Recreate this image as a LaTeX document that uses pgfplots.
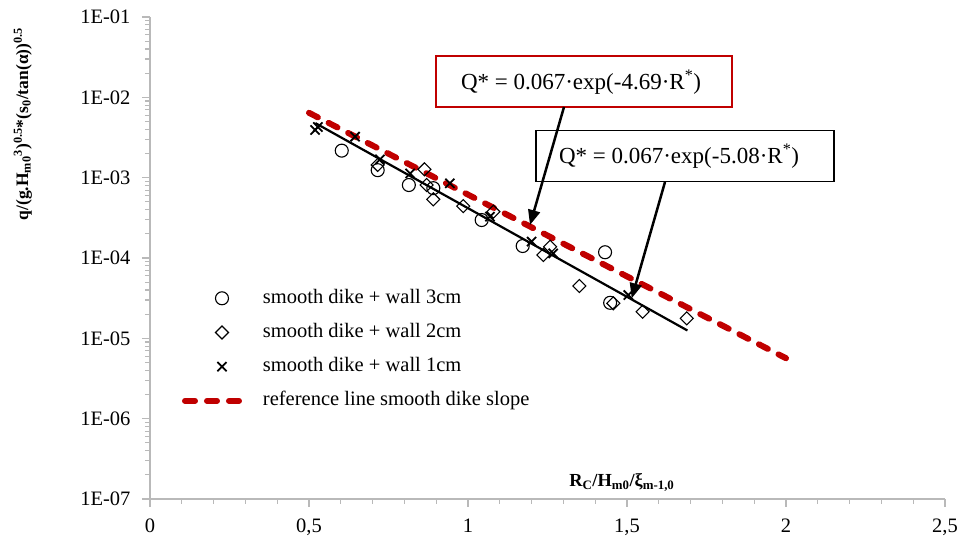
\documentclass[border=0pt]{standalone}
\usepackage{fontspec}
\setmainfont{Liberation Serif}
\usepackage{pgfplots}
\pgfplotsset{compat=1.18}
\usetikzlibrary{arrows.meta}
\definecolor{dred}{RGB}{192,0,0}
\definecolor{axgray}{RGB}{185,185,185}
\begin{document}
\begin{tikzpicture}[font=\fontsize{20.5}{24}\selectfont]
\path[use as bounding box] (-150pt,-36pt) rectangle (807pt,499pt);
\begin{axis}[
  scale only axis, width=795pt, height=482pt,
  xmin=0, xmax=2.5, ymin=1e-7, ymax=1e-1, ymode=log,
  axis x line*=bottom, axis y line*=left,
  axis line style={axgray, line width=1.5pt},
  tick style={axgray, line width=1.2pt},
  tick align=outside, major tick length=8pt, minor tick length=5pt,
  xtick={0,0.5,1,1.5,2,2.5},
  xticklabels={0,{0,5},1,{1,5},2,{2,5}},
  minor xtick={0.1,0.2,0.3,0.4,0.6,0.7,0.8,0.9,1.1,1.2,1.3,1.4,1.6,1.7,1.8,1.9,2.1,2.2,2.3,2.4},
  ytick={1e-7,1e-6,1e-5,1e-4,1e-3,1e-2,1e-1},
  yticklabels={1E-07,1E-06,1E-05,1E-04,1E-03,1E-02,1E-01},
  minor ytick={2e-7,3e-7,4e-7,5e-7,6e-7,7e-7,8e-7,9e-7,
               2e-6,3e-6,4e-6,5e-6,6e-6,7e-6,8e-6,9e-6,
               2e-5,3e-5,4e-5,5e-5,6e-5,7e-5,8e-5,9e-5,
               2e-4,3e-4,4e-4,5e-4,6e-4,7e-4,8e-4,9e-4,
               2e-3,3e-3,4e-3,5e-3,6e-3,7e-3,8e-3,9e-3,
               2e-2,3e-2,4e-2,5e-2,6e-2,7e-2,8e-2,9e-2},
  xticklabel style={yshift=-8pt},
  yticklabel style={xshift=-8pt},
  xlabel={\textbf{R\textsubscript{C}/H\textsubscript{m0}/ξ\textsubscript{m-1,0}}},
  xlabel style={at={(axis description cs:0.523,0.025)}, anchor=base west, font=\fontsize{18.4}{22}\selectfont},
  ylabel={\textbf{q/(g.H\textsubscript{m0}\textsuperscript{3})\textsuperscript{0.5}*(s\textsubscript{0}/tan(α))\textsuperscript{0.5}}},
  ylabel style={at={(axis description cs:-0.160,0.778)}, anchor=center, font=\fontsize{17.5}{21}\selectfont},
  legend image code/.code={\draw[mark repeat=2,mark phase=2,#1] plot coordinates {(0pt,0pt)(37pt,0pt)(62pt,0pt)};},
  legend cell align=left,
  legend style={at={(axis description cs:0.040,0.310)}, anchor=west, draw=none, fill=none,
     inner sep=0pt, row sep=16.2pt, nodes={inner sep=0pt, text height=14pt, text depth=4pt},
     /tikz/every odd column/.append style={column sep=13pt}},
]
\addplot[only marks, mark=o, mark size=6.5pt, mark options={black, line width=1.1pt}] coordinates {
 (0.603,2.17e-3) (0.716,1.24e-3) (0.814,8.1e-4) (0.891,7.4e-4) (1.043,2.97e-4)
 (1.172,1.41e-4) (1.431,1.18e-4) (1.447,2.77e-5)};
\addlegendentry{smooth dike + wall 3cm}
\addplot[only marks, mark=square, mark size=4.6pt, mark options={black, line width=1.1pt, rotate=45}] coordinates {
 (0.716,1.44e-3) (0.863,1.27e-3) (0.870,8.1e-4) (0.891,5.37e-4) (0.985,4.43e-4)
 (1.08,3.77e-4) (1.237,1.09e-4) (1.258,1.38e-4) (1.35,4.48e-5) (1.457,2.73e-5)
 (1.549,2.14e-5) (1.688,1.77e-5)};
\addlegendentry{smooth dike + wall 2cm}
\addplot[only marks, mark=x, mark size=6.5pt, mark options={black, line width=1.8pt}] coordinates {
 (0.519,3.92e-3) (0.528,4.27e-3) (0.645,3.24e-3) (0.723,1.69e-3) (0.818,1.13e-3)
 (0.943,8.5e-4) (1.069,3.27e-4) (1.20,1.6e-4) (1.268,1.14e-4) (1.504,3.46e-5)};
\addlegendentry{smooth dike + wall 1cm}
\addplot[black, line width=2.2pt, forget plot] coordinates {(0.52,4.777e-3) (1.69,1.252e-5)};
\addplot[dred, line width=6pt, line cap=round, dash pattern=on 10pt off 12pt] coordinates {(0.5,6.42e-3) (2.0,5.655e-6)};
\addlegendentry{reference line smooth dike slope}
\end{axis}
\draw[dred, line width=1.5pt] (286pt,392pt) rectangle (582pt,443pt);
\node[anchor=base, inner sep=0pt, font=\fontsize{23}{27}\selectfont] at (431pt,409pt) {Q* = 0.067·exp(-4.69·R\textsuperscript{*})};
\draw[black, line width=1.5pt] (386pt,317.3pt) rectangle (684pt,368.3pt);
\node[anchor=base, inner sep=0pt, font=\fontsize{23}{27}\selectfont] at (529pt,335.7pt) {Q* = 0.067·exp(-5.08·R\textsuperscript{*})};
\draw[black, line width=2.5pt, -{Triangle[length=15pt,width=12pt]}] (414pt,392pt) -- (380pt,274pt);
\draw[black, line width=2.5pt, -{Triangle[length=15pt,width=12pt]}] (515pt,317pt) -- (481.7pt,200.7pt);
\end{tikzpicture}
\end{document}
